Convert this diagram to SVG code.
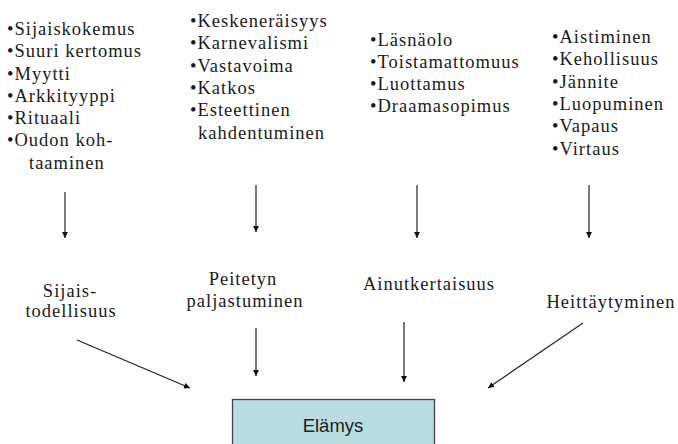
<svg xmlns="http://www.w3.org/2000/svg" width="678" height="444" viewBox="0 0 678 444">
<defs>
<marker id="ah" viewBox="0 0 10 10" refX="10" refY="5" markerWidth="7" markerHeight="6" markerUnits="userSpaceOnUse" orient="auto">
<path d="M0,0 L10,5 L0,10 z" fill="#111"/>
</marker>
<style>
.t{font-family:"Liberation Serif","Times New Roman",serif;font-size:18.5px;letter-spacing:1px;fill:#1a1a1a}
.c{text-anchor:middle}
.a{stroke:#222;stroke-width:1.2;fill:none;marker-end:url(#ah)}
.box{fill:#B9DCE0;stroke:#444;stroke-width:1.3}
.s{font-family:"Liberation Sans",Arial,sans-serif;font-size:18.5px;fill:#222;text-anchor:middle}
</style>
</defs>
<rect width="678" height="444" fill="#fff"/>
<g id="list1">
<text class="t" x="7" y="35">•Sijaiskokemus</text>
<text class="t" x="7" y="57">•Suuri kertomus</text>
<text class="t" x="7" y="79.5">•Myytti</text>
<text class="t" x="7" y="102">•Arkkityyppi</text>
<text class="t" x="7" y="124">•Rituaali</text>
<text class="t" x="7" y="146">•Oudon koh-</text>
<text class="t" x="29" y="168.5">taaminen</text>
</g>
<g id="list2">
<text class="t" x="190" y="27">•Keskeneräisyys</text>
<text class="t" x="190" y="49">•Karnevalismi</text>
<text class="t" x="190" y="71.5">•Vastavoima</text>
<text class="t" x="190" y="94">•Katkos</text>
<text class="t" x="190" y="116">•Esteettinen</text>
<text class="t" x="198" y="138.5">kahdentuminen</text>
</g>
<g id="list3">
<text class="t" x="370" y="46">•Läsnäolo</text>
<text class="t" x="370" y="68">•Toistamattomuus</text>
<text class="t" x="370" y="90">•Luottamus</text>
<text class="t" x="370" y="112">•Draamasopimus</text>
</g>
<g id="list4">
<text class="t" x="552" y="42.7">•Aistiminen</text>
<text class="t" x="552" y="65">•Kehollisuus</text>
<text class="t" x="552" y="87.5">•Jännite</text>
<text class="t" x="552" y="110">•Luopuminen</text>
<text class="t" x="552" y="132">•Vapaus</text>
<text class="t" x="552" y="154.6">•Virtaus</text>
</g>
<g id="n-sijaistodellisuus">
<text class="t c" x="70" y="296.5">Sijais-</text>
<text class="t c" x="71" y="316.5">todellisuus</text>
</g>
<g id="n-peitetyn">
<text class="t c" x="243" y="285">Peitetyn</text>
<text class="t c" x="245" y="306.7">paljastuminen</text>
</g>
<g id="n-ainutkertaisuus">
<text class="t c" x="429" y="290">Ainutkertaisuus</text>
</g>
<g id="n-heittaytyminen">
<text class="t c" x="611" y="308">Heittäytyminen</text>
</g>
<g id="n-elamys">
<rect class="box" x="232.5" y="399.5" width="202" height="60"/>
<text class="s" x="333" y="432">Elämys</text>
</g>
<g id="connectors">
<line class="a" x1="65" y1="192" x2="65" y2="238"/>
<line class="a" x1="256" y1="185" x2="256" y2="232"/>
<line class="a" x1="417" y1="185" x2="417" y2="238"/>
<line class="a" x1="589" y1="185" x2="589" y2="238"/>
<line class="a" x1="77" y1="340" x2="190" y2="388"/>
<line class="a" x1="256" y1="328" x2="256" y2="376"/>
<line class="a" x1="404" y1="322" x2="404" y2="382"/>
<line class="a" x1="583" y1="323" x2="488" y2="388"/>
</g>
</svg>
